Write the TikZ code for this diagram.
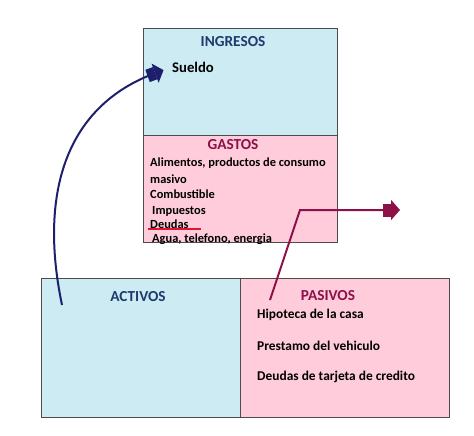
\documentclass[tikz,border=0pt]{standalone}
\usepackage{fontspec}
\setmainfont{Carlito}
\usetikzlibrary{positioning,arrows.meta}
\definecolor{azulclaro}{HTML}{CCEBF3}
\definecolor{rosaclaro}{HTML}{FFCCDC}
\definecolor{azultit}{HTML}{1F3A6E}
\definecolor{guinda}{HTML}{8E1048}
\definecolor{azulflecha}{HTML}{1E1F6C}
\definecolor{rojosub}{HTML}{E2152E}
\tikzset{>={Rectangle[length=8pt,width=13pt]Triangle[length=9pt,width=20pt]}}
\tikzset{
  caja/.style={draw=black!70, line width=0.8pt, anchor=north west, inner sep=0pt},
  titulo/.style={font=\bfseries\fontsize{15.3}{18}\selectfont},
  item/.style={font=\bfseries\fontsize{12.4}{14}\selectfont, anchor=west, inner sep=0pt},
  itemgrande/.style={item, font=\bfseries\fontsize{13.4}{15}\selectfont},
  flecha/.style={line width=2pt, ->},
}

\begin{document}
\begin{tikzpicture}[x=1pt, y=-1pt]
\useasboundingbox (0,0) rectangle (474,436);
% cajas
\node[caja, fill=azulclaro, minimum width=194pt, minimum height=107pt] (ingresos) at (143,28) {};
\node[caja, fill=rosaclaro, minimum width=194pt, minimum height=107pt] (gastos) at (143,135) {};
\node[caja, fill=azulclaro, minimum width=199pt, minimum height=139pt] (activos) at (41,278) {};
\node[caja, fill=rosaclaro, minimum width=209pt, minimum height=139pt] (pasivos) at (240,278) {};
% titulos
\node[titulo, text=azultit] (tIngresos) at (233,42) {INGRESOS};
\node[titulo, text=guinda] (tGastos) at (233,145) {GASTOS};
\node[titulo, text=azultit] (tActivos) at (138,297) {ACTIVOS};
\node[titulo, text=guinda] (tPasivos) at (328,296) {PASIVOS};
\node[item, font=\bfseries\fontsize{14.7}{17}\selectfont] (sueldo) at (172,67) {Sueldo};
% gastos
\node[item] (alimentos) at (150,163) {Alimentos, productos de consumo};
\node[item] (masivo) at (150,179) {masivo};
\node[item] (combustible) at (150,194) {Combustible};
\node[item] (impuestos) at (152,211) {Impuestos};
\node[item] (deudas) at (150,224) {Deudas};
\node[item] (agua) at (152,239) {Agua, telefono, energia};
\draw[rojosub, line width=1.5pt] (148,229) -- (201,229);
% pasivos
\node[itemgrande] (hipoteca) at (257,315) {Hipoteca de la casa};
\node[itemgrande] (prestamo) at (257,346) {Prestamo del vehiculo};
\node[itemgrande] (tarjeta) at (257,377) {Deudas de tarjeta de credito};
% flechas
\coordinate (desdeActivos) at (62,305);
\coordinate (desdePasivos) at (270,300);
\coordinate (quiebre) at (300,210);
\coordinate (salidaGastos) at (400,210);
\draw[flecha, azulflecha, shorten >=9pt] (desdeActivos) .. controls (38,190) and (68,105) .. (sueldo.west);
\draw[flecha, guinda] (desdePasivos) -- (quiebre) -- (salidaGastos);
\end{tikzpicture}
\end{document}
